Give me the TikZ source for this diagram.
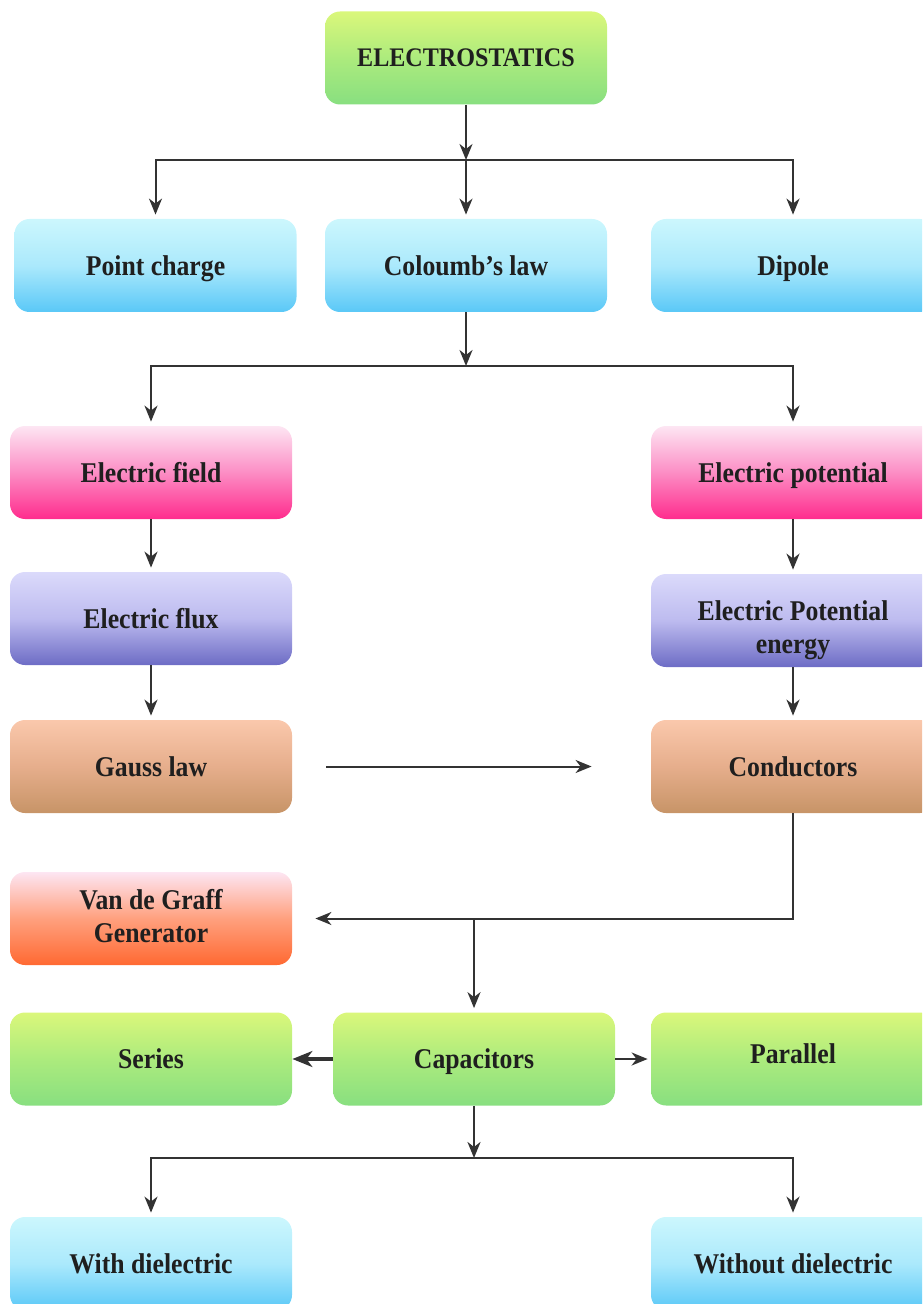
\documentclass[tikz,border=0pt]{standalone}
\usepackage{fontspec}
\setmainfont{Liberation Serif}[FakeStretch=0.9]
\usetikzlibrary{arrows.meta}

\definecolor{grnTop}{HTML}{DAF77B}
\definecolor{grnMid}{HTML}{ACEB7D}
\definecolor{grnBot}{HTML}{88DF80}
\definecolor{cyaTop}{HTML}{CCF7FD}
\definecolor{cyaMid}{HTML}{ABE9FC}
\definecolor{cyaBot}{HTML}{5AC8F7}
\definecolor{pnkTop}{HTML}{FDE6F3}
\definecolor{pnkMid}{HTML}{FC8DC4}
\definecolor{pnkBot}{HTML}{FF2C8D}
\definecolor{lavTop}{HTML}{DBDAFB}
\definecolor{lavMid}{HTML}{BDBBEF}
\definecolor{lavBot}{HTML}{6D6CC5}
\definecolor{tanTop}{HTML}{FAC8AC}
\definecolor{tanMid}{HTML}{E6AE8C}
\definecolor{tanBot}{HTML}{C79467}
\definecolor{orgTop}{HTML}{FDE6F3}
\definecolor{orgMid}{HTML}{FFA07E}
\definecolor{orgBot}{HTML}{FF6932}

\tikzset{
  box/.style={rounded corners=7.5pt, minimum width=141pt, minimum height=46.5pt,
    inner sep=2pt, align=center, text=black!88, text depth=0pt,
    font=\fontsize{14.3pt}{16.5pt}\selectfont\bfseries},
  grnbox/.style={box, top color=grnTop, bottom color=grnBot, middle color=grnMid},
  cyabox/.style={box, top color=cyaTop, bottom color=cyaBot, middle color=cyaMid},
  pnkbox/.style={box, top color=pnkTop, bottom color=pnkBot, middle color=pnkMid},
  lavbox/.style={box, top color=lavTop, bottom color=lavBot, middle color=lavMid},
  tanbox/.style={box, top color=tanTop, bottom color=tanBot, middle color=tanMid},
  orgbox/.style={box, top color=orgTop, bottom color=orgBot, middle color=orgMid},
  rbox/.style={minimum width=142pt},
  arr/.style={-{Stealth[length=8pt,width=6.5pt,inset=2.5pt]}, line width=1pt, black!80, shorten >=2pt},
  thickarr/.style={-{Stealth[length=10pt,width=8pt,inset=3pt]}, line width=1.6pt, black!80},
}

\begin{document}
\begin{tikzpicture}[x=0.5pt, y=-0.5pt]
        \useasboundingbox (0,0) rectangle (922,1304);
        \clip (0,0) rectangle (922,1304);

        % Define the boxes
        \node[grnbox, font=\fontsize{13.4pt}{16pt}\selectfont\bfseries] (es) at (466,58) {ELECTROSTATICS};

        \node[cyabox] (pc) at (155.5,265.5) {Point charge};
        \node[cyabox] (cl) at (466,265.5) {Coloumb's law};
        \node[cyabox, rbox] (dp) at (793,265.5) {Dipole};

        \node[pnkbox] (ef) at (151,472.5) {Electric field};
        \node[pnkbox, rbox] (ep) at (793,472.5) {Electric potential};

        \node[lavbox] (fx) at (151,618.5) {Electric flux};
        \node[lavbox, rbox] (pe) at (793,620.5) {\rule{0pt}{16.7pt}Electric Potential\\energy};

        \node[tanbox] (gl) at (151,766.5) {Gauss law};
        \node[tanbox, rbox] (cd) at (793,766.5) {Conductors};

        \node[orgbox, text depth=3pt] (vg) at (151,918.5) {Van de Graff\\Generator};

        \node[grnbox] (ser) at (151,1059) {Series};
        \node[grnbox] (cap) at (474,1059) {Capacitors};
        \node[grnbox, rbox] (par) at (793,1059) {\raisebox{5.5pt}{Parallel}};

        \node[cyabox] (wd) at (151,1263.5) {With dielectric};
        \node[cyabox, rbox] (wod) at (793,1263.5) {Without dielectric};

        % Define the connectors
        \coordinate (b1) at (es.south |- 0,160);
        \draw[arr, shorten >=0pt] (es) -- (b1);
        \draw[arr] (b1) -| (pc);
        \draw[arr] (b1) -- (cl);
        \draw[arr] (b1) -| (dp);

        \coordinate (b2) at (cl.south |- 0,366);
        \draw[arr, shorten >=0pt] (cl) -- (b2);
        \draw[arr] (b2) -| (ef);
        \draw[arr] (b2) -| (ep);

        \draw[arr] (ef) -- (fx);
        \draw[arr] (fx) -- (gl);
        \draw[arr] (ep) -- (pe);
        \draw[arr] (pe) -- (cd);

        \draw[arr, shorten <=17pt, shorten >=29.5pt] (gl) -- (cd);

        \draw[arr, shorten >=11.5pt] (cd) |- (vg);
        \coordinate (b3) at (cap.north |- vg.east);
        \draw[arr] (b3) -- (cap);

        \draw[thickarr] (cap) -- (ser);
        \draw[arr, shorten >=1.5pt] (cap) -- (par);

        \coordinate (b4) at (cap.south |- 0,1158);
        \draw[arr, line width=1.3pt, shorten >=0pt] (cap) -- (b4);
        \draw[arr] (b4) -| (wd);
        \draw[arr] (b4) -| (wod);

    \end{tikzpicture}
\end{document}
